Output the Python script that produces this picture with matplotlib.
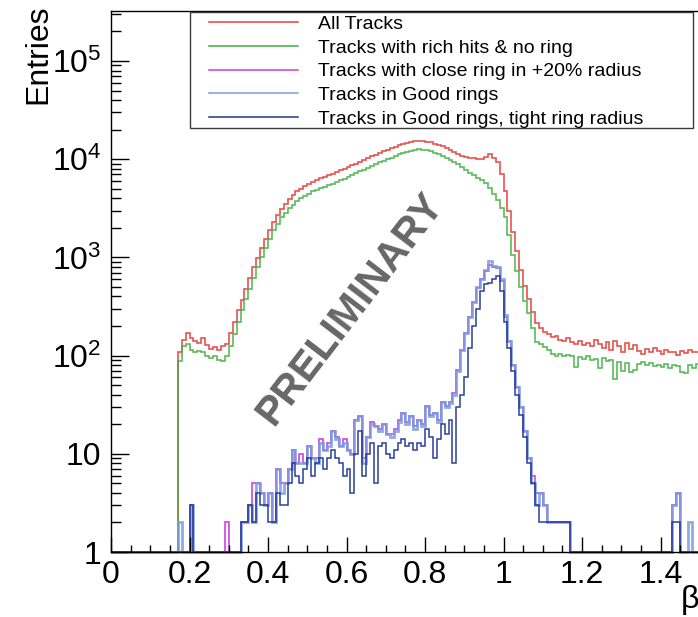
import numpy as np
import matplotlib.pyplot as plt
from matplotlib.lines import Line2D
from matplotlib.patches import Rectangle
from matplotlib.ticker import FixedLocator, LogLocator, FuncFormatter, NullFormatter

plt.rcParams['font.family'] = ['Liberation Sans', 'DejaVu Sans']
plt.rcParams['mathtext.fontset'] = 'custom'
plt.rcParams['mathtext.rm'] = 'Liberation Sans'
plt.rcParams['mathtext.it'] = 'Liberation Sans:italic'

# beta histograms, bins of 0.01 from 0 to 1.5
bin_edges = np.round(np.arange(151) * 0.01, 2)

all_tracks = [
    0, 0, 0, 0, 0, 0, 0, 0, 0, 0,
    0, 0, 0, 0, 0, 0, 0, 108, 145, 170,
    150, 140, 135, 150, 128, 118, 122, 115, 125, 130,
    170, 220, 290, 370, 480, 610, 790, 990, 1250, 1550,
    1900, 2300, 2700, 3100, 3500, 3900, 4300, 4700, 5000, 5300,
    5600, 5900, 6150, 6400, 6650, 6900, 7150, 7400, 7700, 8000,
    8300, 8700, 9000, 9400, 9800, 10200, 10700, 11100, 11600, 12000,
    12500, 13000, 13400, 13900, 14300, 14700, 15000, 15300, 15500, 15400,
    15100, 14800, 14400, 14000, 13500, 13000, 12400, 11800, 11200, 10800,
    10500, 10300, 10200, 10100, 10000, 10600, 11200, 10300, 9300, 7000,
    4800, 3000, 1800, 1150, 750, 510, 380, 280, 215, 190,
    175, 165, 155, 158, 145, 142, 150, 138, 132, 140,
    128, 135, 125, 145, 130, 120, 138, 115, 142, 125,
    110, 135, 118, 128, 112, 105, 118, 108, 120, 112,
    104, 115, 108, 110, 102, 112, 106, 115, 110, 108,
]

rich_no_ring = [
    0, 0, 0, 0, 0, 0, 0, 0, 0, 0,
    0, 0, 0, 0, 0, 0, 0, 88, 125, 130,
    115, 110, 112, 108, 100, 95, 98, 90, 88, 100,
    125, 165, 220, 290, 375, 480, 620, 790, 1000, 1250,
    1550, 1900, 2200, 2550, 2850, 3150, 3450, 3750, 4000, 4250,
    4450, 4700, 4850, 5100, 5250, 5500, 5650, 5900, 6100, 6350,
    6600, 6900, 7200, 7500, 7850, 8150, 8550, 8900, 9300, 9650,
    10000, 10400, 10800, 11200, 11600, 11900, 12200, 12400, 12600, 12500,
    12300, 12000, 11700, 11300, 10900, 10400, 9900, 9400, 8900, 8300,
    7800, 7300, 6900, 6500, 6200, 5700, 5100, 4400, 3800, 3200,
    2600, 1700, 1050, 720, 500, 360, 270, 190, 138, 130,
    122, 115, 105, 100, 104, 98, 102, 100, 77, 96,
    92, 98, 90, 92, 75, 95, 88, 90, 58, 86,
    70, 85, 68, 72, 82, 86, 80, 84, 78, 80,
    76, 82, 74, 80, 78, 68, 66, 80, 74, 82,
]

close_ring = [
    0, 0, 0, 0, 0, 0, 0, 0, 0, 0,
    0, 0, 0, 0, 0, 0, 0, 0, 0, 0,
    3, 0, 0, 0, 0, 0, 0, 0, 0, 2,
    0, 0, 0, 2, 2, 3, 5, 5, 4, 3,
    4, 2, 7, 5, 5, 7, 11, 8, 10, 8,
    12, 9, 9, 14, 11, 13, 17, 15, 12, 14,
    11, 10, 22, 24, 9, 15, 21, 19, 18, 20,
    16, 16, 18, 22, 26, 21, 24, 19, 22, 20,
    31, 25, 26, 22, 34, 31, 34, 42, 72, 115,
    170, 250, 350, 490, 600, 730, 830, 800, 780, 580,
    250, 140, 80, 48, 30, 17, 9, 6, 4, 4,
    3, 2, 2, 2, 2, 2, 2, 0, 0, 0,
    0, 0, 0, 0, 0, 0, 0, 0, 0, 0,
    0, 0, 0, 0, 0, 0, 0, 0, 0, 0,
    0, 0, 0, 3, 4, 0, 0, 0, 0, 0,
]

good_rings = [
    0, 0, 0, 0, 0, 0, 0, 0, 0, 0,
    0, 0, 0, 0, 0, 0, 0, 2, 0, 0,
    3, 0, 0, 0, 0, 0, 0, 0, 0, 0,
    0, 0, 0, 2, 2, 3, 2, 5, 4, 3,
    4, 2, 7, 4, 5, 7, 11, 8, 8, 8,
    12, 9, 8, 13, 11, 12, 17, 14, 12, 13,
    11, 10, 22, 24, 8, 15, 20, 19, 17, 20,
    16, 15, 17, 21, 26, 20, 24, 18, 22, 19,
    31, 24, 26, 21, 34, 30, 33, 40, 70, 115,
    170, 250, 350, 500, 600, 750, 910, 820, 800, 600,
    260, 140, 80, 48, 30, 17, 9, 5, 3, 4,
    3, 2, 2, 2, 2, 2, 2, 0, 0, 0,
    0, 0, 0, 0, 0, 0, 0, 0, 0, 0,
    0, 0, 0, 0, 0, 0, 0, 0, 0, 0,
    0, 0, 0, 3, 4, 0, 0, 2, 0, 0,
]

good_tight = [
    0, 0, 0, 0, 0, 0, 0, 0, 0, 0,
    0, 0, 0, 0, 0, 0, 0, 0, 0, 0,
    3, 0, 0, 0, 0, 0, 0, 0, 0, 0,
    0, 0, 0, 2, 2, 3, 2, 4, 3, 3,
    2, 2, 4, 3, 3, 5, 8, 6, 5, 7,
    9, 6, 8, 9, 7, 9, 11, 9, 8, 6,
    7, 4, 10, 17, 6, 10, 13, 5, 12, 13,
    10, 9, 11, 13, 14, 12, 13, 11, 13, 12,
    18, 15, 9, 14, 20, 16, 22, 8, 30, 40,
    60, 120, 200, 300, 450, 530, 550, 600, 645, 450,
    220, 120, 70, 40, 25, 15, 8, 5, 3, 2,
    2, 2, 2, 2, 2, 2, 2, 0, 0, 0,
    0, 0, 0, 0, 0, 0, 0, 0, 0, 0,
    0, 0, 0, 0, 0, 0, 0, 0, 0, 0,
    0, 0, 0, 2, 2, 0, 0, 0, 0, 0,
]

x_ticks = [0, 0.2, 0.4, 0.6, 0.8, 1.0, 1.2, 1.4]

series = [
    ('All Tracks', all_tracks, '#e8403c', 1.2, 0.9),
    ('Tracks with rich hits & no ring', rich_no_ring, '#3fae3f', 1.2, 0.85),
    ('Tracks with close ring in +20% radius', close_ring, '#cc3ee0', 1.3, 0.9),
    ('Tracks in Good rings', good_rings, '#7b9be0', 2.0, 0.85),
    ('Tracks in Good rings, tight ring radius', good_tight, '#1f3597', 1.1, 0.95),
]

fig = plt.figure(figsize=(6.98, 6.17), dpi=100)
ax = fig.add_axes([111 / 698, 65 / 617, 1.6 * 392.5 / 698, 541 / 617])

for name, vals, col, lw, a in series:
    # empty bins sit on the bottom of the log axis, like ROOT does
    shown = np.maximum(np.array(vals, dtype=float), 1.0)
    ax.stairs(shown, bin_edges, baseline=None, color=col, lw=lw, alpha=a, clip_on=False)

ax.set_yscale('log')
ax.set_xlim(0, 1.6)
ax.set_ylim(1, 10 ** (541 / 98.2))

ax.xaxis.set_major_locator(FixedLocator(x_ticks))
ax.xaxis.set_minor_locator(FixedLocator(np.arange(0, 1.5, 0.05)))
ax.xaxis.set_major_formatter(FuncFormatter(lambda v, p: '%g' % round(v, 2)))
ax.yaxis.set_major_locator(LogLocator(base=10, subs=(1.0,)))
ax.yaxis.set_minor_locator(LogLocator(base=10, subs=np.arange(2, 10)))
ax.yaxis.set_minor_formatter(NullFormatter())


def ylab(v, p):
    if v < 5:
        return '1'
    if v < 50:
        return '10'
    return r'$10^{%d}$' % round(np.log10(v))


ax.yaxis.set_major_formatter(FuncFormatter(ylab))
ax.tick_params(axis='x', which='major', direction='in', length=10.5, width=1, labelsize=23, pad=6)
ax.tick_params(axis='x', which='minor', direction='in', length=5, width=1)
ax.tick_params(axis='y', which='major', direction='in', length=13, width=1, labelsize=23, pad=7)
ax.tick_params(axis='y', which='minor', direction='in', length=7, width=1)
ax.tick_params(top=False, right=False, which='both')
for s in ax.spines.values():
    s.set_linewidth(1)

# legend box, drawn in figure pixels
box = Rectangle((190 / 698, 1 - 128 / 617), 503 / 698, 116 / 617,
                transform=fig.transFigure, facecolor='white',
                edgecolor='#3a3a3a', lw=1, zorder=4, clip_on=False)
ax.add_patch(box)
handles = [Line2D([], [], color=c, lw=1.1) for _, _, c, _, _ in series]
leg = ax.legend(handles, [s[0] for s in series], loc='upper left',
                bbox_to_anchor=(209 / 698, 1 - 15.5 / 617), bbox_transform=fig.transFigure,
                frameon=False, fontsize=14, handlelength=4.6, handletextpad=1.0,
                borderpad=0, borderaxespad=0, labelspacing=0.31)
leg.set_zorder(6)

fig.text(38 / 698, 1 - 4 / 617, 'Entries', rotation=90, ha='center', va='top', fontsize=23)
fig.text(681 / 698, 1 - 600 / 617, 'β', ha='left', va='center', fontsize=23)
fig.text(350 / 698, 1 - 309 / 617, 'PRELIMINARY', rotation=52.5, rotation_mode='anchor',
         ha='center', va='center', fontsize=29.5, fontweight='bold', color='#676767')

fig.savefig('out.png', dpi=100)
